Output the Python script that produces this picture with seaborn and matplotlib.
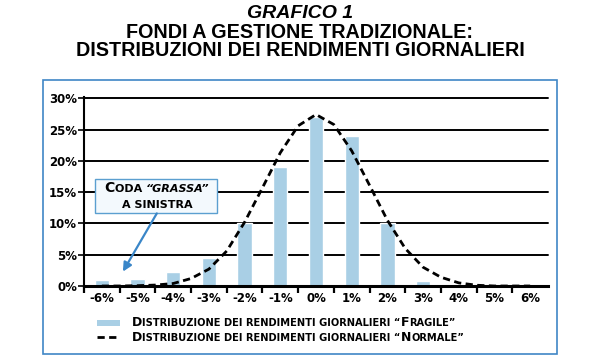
import matplotlib
matplotlib.use("Agg")
import matplotlib.pyplot as plt
import seaborn as sns
import pandas as pd
from matplotlib.patches import Rectangle
from matplotlib.lines import Line2D
from matplotlib.transforms import IdentityTransform

# --- dati ---
rendimenti = [-6, -5, -4, -3, -2, -1, 0, 1, 2, 3, 4, 5, 6]
etichette_x = ["-6%", "-5%", "-4%", "-3%", "-2%", "-1%", "0%",
               "1%", "2%", "3%", "4%", "5%", "6%"]
fragile = [1.0, 1.1, 2.2, 4.4, 10.0, 19.0, 27.0, 24.0, 10.0, 0.8, 0.0, 0.0, 0.0]

normale_x = [-6, -5.5, -5, -4.5, -4, -3.5, -3, -2.5, -2, -1.5, -1, -0.5, 0,
             0.5, 1, 1.5, 2, 2.5, 3, 3.5, 4, 4.5, 5, 5.5, 6]
normale_y = [0.0, 0.0, 0.05, 0.15, 0.4, 1.2, 2.7, 5.6, 10.2, 15.7, 21.3, 25.6, 27.4,
             25.8, 21.6, 16.1, 10.5, 6.0, 3.0, 1.4, 0.5, 0.12, 0.0, 0.0, 0.0]

tick_y = [0, 5, 10, 15, 20, 25, 30]
etichette_y = ["0%", "5%", "10%", "15%", "20%", "25%", "30%"]

BLU_BARRE = "#a9cfe5"
BLU_CORNICE = "#3f86c6"

df_barre = pd.DataFrame({"rendimento": rendimenti, "quota": fragile})
df_curva = pd.DataFrame({"rendimento": normale_x, "quota": normale_y})

sns.set_theme(style="white")
plt.rcParams["font.family"] = ["Liberation Sans", "DejaVu Sans"]
plt.rcParams["text.color"] = "black"
plt.rcParams["xtick.color"] = "black"
plt.rcParams["ytick.color"] = "black"

W, H = 600, 360
fig = plt.figure(figsize=(W / 100, H / 100), dpi=100)
fig.patch.set_facecolor("white")


def px(x, y):
    """pixel (dall'alto) -> coordinate figura"""
    return x / W, 1 - y / H


ax = fig.add_axes([84 / W, 1 - 286 / H, 464 / W, (286 - 97) / H])
ax.set_facecolor("white")

sns.barplot(data=df_barre, x="rendimento", y="quota", native_scale=True,
            width=0.4, color=BLU_BARRE, saturation=1, ax=ax, zorder=2)
sns.lineplot(data=df_curva, x="rendimento", y="quota", color="black",
             linewidth=2.0, ax=ax, zorder=4)
ax.lines[-1].set_dashes((2.6, 1.6))

ax.set_xlim(-6.5, 6.5)
ax.set_ylim(0, 30.2)
ax.set_xlabel("")
ax.set_ylabel("")

ax.set_yticks(tick_y)
ax.set_yticklabels(etichette_y, fontsize=8.5, fontweight="bold",
                   family="DejaVu Sans", color="black")
ax.set_xticks(rendimenti)
ax.set_xticklabels(etichette_x, fontsize=8.5, fontweight="bold",
                   family="DejaVu Sans", color="black")
ax.set_xticks([r - 0.5 for r in rendimenti], minor=True)
ax.tick_params(axis="x", which="major", length=0, pad=4)
ax.tick_params(axis="x", which="minor", length=5, width=1.6,
               direction="out", color="black", bottom=True)
ax.tick_params(axis="y", which="major", length=4, width=1.2, left=True,
               direction="out", color="black", pad=1)

for y in tick_y[1:]:
    ax.axhline(y, color="black", linewidth=1.4, zorder=1, clip_on=False)

for s in ["top", "right"]:
    ax.spines[s].set_visible(False)
ax.spines["left"].set_color("black")
ax.spines["left"].set_linewidth(1.5)
ax.spines["bottom"].set_color("black")
ax.spines["bottom"].set_linewidth(2.2)
ax.spines["bottom"].set_zorder(5)

# riquadro esplicativo con freccia
ax.add_patch(Rectangle((-6.19, 11.7), 3.42, 5.4, facecolor="#f3f9fd",
                       edgecolor="#5b9fd0", linewidth=1.0, zorder=6,
                       clip_on=False))
ax.annotate("", xy=(-5.41, 2.3), xytext=(-4.46, 11.6),
            arrowprops=dict(arrowstyle="-|>", color="#3a86c8", lw=1.6,
                            mutation_scale=13, shrinkA=0, shrinkB=0),
            zorder=7)

renderer = fig.canvas.get_renderer()


def testo_maiuscoletto(x, y, runs, ha="left", family="DejaVu Sans"):
    """Scrive una riga composta da pezzi di corpo e stile diversi."""
    pezzi = []
    totale = 0.0
    for txt, size, style in runs:
        t = fig.text(0, 0, txt, fontsize=size, fontweight="bold",
                     fontstyle=style, family=family, color="black",
                     transform=IdentityTransform(), ha="left",
                     va="baseline", zorder=10)
        w = t.get_window_extent(renderer).width
        pezzi.append((t, w))
        totale += w
    x0 = x - totale / 2 if ha == "center" else x
    for t, w in pezzi:
        t.set_position((x0, H - y))
        x0 += w


testo_maiuscoletto(157, 192, [("C", 10.0, "normal"), ("ODA ", 8.0, "normal"),
                              ("\u201cGRASSA\u201d", 8.0, "italic")],
                   ha="center")
testo_maiuscoletto(157, 208, [("A SINISTRA", 8.0, "normal")], ha="center")

# legenda
fig.patches.append(Rectangle(px(97, 326), 23 / W, 6 / H,
                             transform=fig.transFigure, facecolor=BLU_BARRE,
                             edgecolor="none"))
fig.lines.append(Line2D([97 / W, 120 / W], [1 - 337 / H, 1 - 337 / H],
                        transform=fig.transFigure, color="black",
                        linewidth=2.0, dashes=(2.6, 1.6)))
testo_maiuscoletto(132, 326, [("D", 9.0, "normal"),
                              ("ISTRIBUZIONE DEI RENDIMENTI GIORNALIERI \u201c", 7.1, "normal"),
                              ("F", 9.0, "normal"), ("RAGILE\u201d", 7.1, "normal")])
testo_maiuscoletto(132, 341, [("D", 9.0, "normal"),
                              ("ISTRIBUZIONE DEI RENDIMENTI GIORNALIERI \u201c", 7.1, "normal"),
                              ("N", 9.0, "normal"), ("ORMALE\u201d", 7.1, "normal")])

# titolo
fig.text(0.5, 1 - 18.5 / H, "GRAFICO 1", ha="center", va="baseline",
         fontsize=14, fontweight="bold", fontstyle="italic", color="black")
fig.text(0.5, 1 - 38 / H, "FONDI A GESTIONE TRADIZIONALE:", ha="center",
         va="baseline", fontsize=14.2, fontweight="bold", color="black")
fig.text(0.5, 1 - 56 / H, "DISTRIBUZIONI DEI RENDIMENTI GIORNALIERI",
         ha="center", va="baseline", fontsize=14.2, fontweight="bold",
         color="black")

# cornice
fig.patches.append(Rectangle(px(43, 354), 514 / W, 274 / H,
                             transform=fig.transFigure, facecolor="none",
                             edgecolor=BLU_CORNICE, linewidth=1.2))

fig.savefig("out.png", dpi=100)
